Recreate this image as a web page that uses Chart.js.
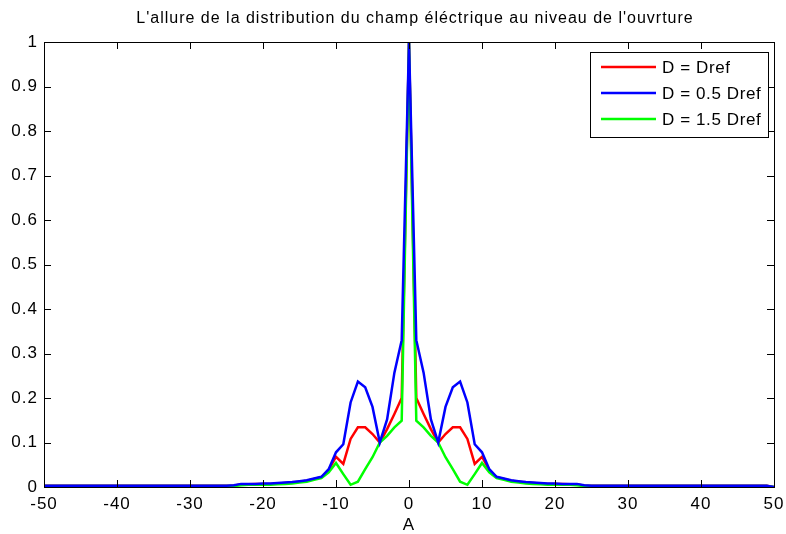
<!DOCTYPE html>
<html>
<head>
<meta charset="utf-8">
<script src="https://cdn.jsdelivr.net/npm/chart.js@4/dist/chart.umd.min.js"></script>
<style>
  html, body { margin: 0; padding: 0; background: #fff; }
  #wrap { width: 786px; height: 534px; }
</style>
</head>
<body>
<div id="wrap"><canvas id="graf" width="786" height="534"></canvas></div>
<script>
// abscisse A : -50 .. 50 pas de 1
const valeursA = [
  -50, -49, -48, -47, -46, -45, -44, -43, -42, -41,
  -40, -39, -38, -37, -36, -35, -34, -33, -32, -31,
  -30, -29, -28, -27, -26, -25, -24, -23, -22, -21,
  -20, -19, -18, -17, -16, -15, -14, -13, -12, -11,
  -10, -9, -8, -7, -6, -5, -4, -3, -2, -1,
  0,
  1, 2, 3, 4, 5, 6, 7, 8, 9, 10,
  11, 12, 13, 14, 15, 16, 17, 18, 19, 20,
  21, 22, 23, 24, 25, 26, 27, 28, 29, 30,
  31, 32, 33, 34, 35, 36, 37, 38, 39, 40,
  41, 42, 43, 44, 45, 46, 47, 48, 49, 50
];

// D = Dref
const champDref = [
  0.003, 0.003, 0.003, 0.003, 0.003, 0.003, 0.003, 0.003, 0.003, 0.003,
  0.003, 0.003, 0.003, 0.003, 0.003, 0.003, 0.003, 0.003, 0.003, 0.003,
  0.003, 0.003, 0.003, 0.003, 0.003, 0.003, 0.003, 0.006, 0.006, 0.007,
  0.007, 0.007, 0.008, 0.009, 0.010, 0.012, 0.014, 0.018, 0.022, 0.038,
  0.068, 0.052, 0.108, 0.134, 0.134, 0.119, 0.100, 0.130, 0.164, 0.200,
  1,
  0.200, 0.164, 0.130, 0.100, 0.119, 0.134, 0.134, 0.108, 0.052, 0.068,
  0.038, 0.022, 0.018, 0.014, 0.012, 0.010, 0.009, 0.008, 0.007, 0.007,
  0.007, 0.006, 0.006, 0.003, 0.003, 0.003, 0.003, 0.003, 0.003, 0.003,
  0.003, 0.003, 0.003, 0.003, 0.003, 0.003, 0.003, 0.003, 0.003, 0.003,
  0.003, 0.003, 0.003, 0.003, 0.003, 0.003, 0.003, 0.003, 0.003, 0
];

// D = 0.5 Dref
const champDemi = [
  0.003, 0.003, 0.003, 0.003, 0.003, 0.003, 0.003, 0.003, 0.003, 0.003,
  0.003, 0.003, 0.003, 0.003, 0.003, 0.003, 0.003, 0.003, 0.003, 0.003,
  0.003, 0.003, 0.003, 0.003, 0.003, 0.003, 0.004, 0.007, 0.007, 0.007,
  0.008, 0.008, 0.009, 0.010, 0.011, 0.013, 0.015, 0.019, 0.023, 0.040,
  0.078, 0.096, 0.190, 0.237, 0.224, 0.180, 0.100, 0.152, 0.257, 0.330,
  1,
  0.330, 0.257, 0.152, 0.100, 0.180, 0.224, 0.237, 0.190, 0.096, 0.078,
  0.040, 0.023, 0.019, 0.015, 0.013, 0.011, 0.010, 0.009, 0.008, 0.008,
  0.007, 0.007, 0.007, 0.004, 0.003, 0.003, 0.003, 0.003, 0.003, 0.003,
  0.003, 0.003, 0.003, 0.003, 0.003, 0.003, 0.003, 0.003, 0.003, 0.003,
  0.003, 0.003, 0.003, 0.003, 0.003, 0.003, 0.003, 0.003, 0.003, 0
];

// D = 1.5 Dref
const champUnDemi = [
  0.002, 0.002, 0.002, 0.002, 0.002, 0.002, 0.002, 0.002, 0.002, 0.002,
  0.002, 0.002, 0.002, 0.002, 0.002, 0.002, 0.002, 0.002, 0.002, 0.002,
  0.002, 0.002, 0.002, 0.002, 0.002, 0.002, 0.002, 0.004, 0.005, 0.005,
  0.005, 0.005, 0.006, 0.007, 0.008, 0.010, 0.012, 0.016, 0.020, 0.033,
  0.054, 0.029, 0.005, 0.012, 0.040, 0.067, 0.100, 0.115, 0.134, 0.149,
  1,
  0.149, 0.134, 0.115, 0.100, 0.067, 0.040, 0.012, 0.005, 0.029, 0.054,
  0.033, 0.020, 0.016, 0.012, 0.010, 0.008, 0.007, 0.006, 0.005, 0.005,
  0.005, 0.005, 0.004, 0.002, 0.002, 0.002, 0.002, 0.002, 0.002, 0.002,
  0.002, 0.002, 0.002, 0.002, 0.002, 0.002, 0.002, 0.002, 0.002, 0.002,
  0.002, 0.002, 0.002, 0.002, 0.002, 0.002, 0.002, 0.002, 0.002, 0
];

const titre = "L'allure de la distribution du champ éléctrique au niveau de l'ouvrture";
const nomsCourbes = ["D = Dref", "D = 0.5 Dref", "D = 1.5 Dref"];
const ticksX = [-50, -40, -30, -20, -10, 0, 10, 20, 30, 40, 50];
const ticksY = [0, 0.1, 0.2, 0.3, 0.4, 0.5, 0.6, 0.7, 0.8, 0.9, 1];

const police = "'Liberation Sans', Arial, Helvetica, sans-serif";

function points(ys) {
  return valeursA.map((a, i) => ({ x: a, y: ys[i] }));
}

// texte un peu plus espacé, comme le rendu matlab
const espacement = {
  id: "espacement",
  beforeDraw(chart) { chart.ctx.letterSpacing = "1px"; }
};

// titre au dessus des axes
const titreMatlab = {
  id: "titreMatlab",
  afterDraw(chart) {
    const ctx = chart.ctx;
    ctx.save();
    ctx.font = "16px " + police;
    ctx.letterSpacing = "1px";
    ctx.fillStyle = "#000";
    ctx.textAlign = "center";
    ctx.textBaseline = "middle";
    ctx.fillText(titre, 415, 19);
    ctx.restore();
  }
};

// cadre + graduations vers l'interieur (style matlab)
const cadreMatlab = {
  id: "cadreMatlab",
  afterDraw(chart) {
    const ctx = chart.ctx;
    const a = chart.chartArea;
    const sx = chart.scales.x, sy = chart.scales.y;
    const lg = 7;
    ctx.save();
    ctx.strokeStyle = "#000";
    ctx.lineWidth = 1;
    ctx.beginPath();
    ticksX.forEach(v => {
      const px = Math.round(sx.getPixelForValue(v)) + 0.5;
      ctx.moveTo(px, a.bottom); ctx.lineTo(px, a.bottom - lg);
      ctx.moveTo(px, a.top); ctx.lineTo(px, a.top + lg);
    });
    ticksY.forEach(v => {
      const py = Math.round(sy.getPixelForValue(v)) + 0.5;
      ctx.moveTo(a.left, py); ctx.lineTo(a.left + lg, py);
      ctx.moveTo(a.right, py); ctx.lineTo(a.right - lg, py);
    });
    ctx.stroke();
    ctx.strokeRect(Math.round(a.left) + 0.5, Math.round(a.top) + 0.5,
      Math.round(a.right - a.left), Math.round(a.bottom - a.top));
    ctx.restore();
  }
};

// legende dans le coin haut droit
const legendeMatlab = {
  id: "legendeMatlab",
  afterDraw(chart) {
    const ctx = chart.ctx;
    const x0 = 590.5, y0 = 52.5, w = 178, h = 85;
    ctx.save();
    ctx.fillStyle = "#fff";
    ctx.fillRect(x0, y0, w, h);
    ctx.strokeStyle = "#000";
    ctx.lineWidth = 1;
    ctx.strokeRect(x0, y0, w, h);
    ctx.font = "17px " + police;
    ctx.letterSpacing = "0.6px";
    ctx.textBaseline = "middle";
    ctx.fillStyle = "#000";
    chart.data.datasets.forEach((ds, i) => {
      const y = 67 + i * 26;
      ctx.strokeStyle = ds.borderColor;
      ctx.lineWidth = 2.5;
      ctx.beginPath();
      ctx.moveTo(601, y); ctx.lineTo(656, y);
      ctx.stroke();
      ctx.fillText(ds.label, 662, y + 1);
    });
    ctx.restore();
  }
};

new Chart(document.getElementById("graf"), {
  type: "line",
  data: {
    datasets: [
      { label: nomsCourbes[0], data: points(champDref), borderColor: "#ff0000", order: 2 },
      { label: nomsCourbes[1], data: points(champDemi), borderColor: "#0000ff", order: 0 },
      { label: nomsCourbes[2], data: points(champUnDemi), borderColor: "#00ff00", order: 1 }
    ]
  },
  options: {
    responsive: false,
    animation: false,
    devicePixelRatio: 1,
    elements: {
      line: { borderWidth: 2.5, tension: 0, fill: false },
      point: { radius: 0 }
    },
    layout: { padding: { left: 0, right: 12, top: 42, bottom: -2 } },
    plugins: {
      legend: { display: false },
      tooltip: { enabled: false },
      title: { display: false }
    },
    scales: {
      x: {
        type: "linear",
        min: -50, max: 50,
        grid: { display: false, drawTicks: false },
        border: { display: false },
        afterFit(s) { s.height = 49; s.paddingLeft = 0; s.paddingRight = 0; },
        afterBuildTicks(s) { s.ticks = ticksX.map(v => ({ value: v })); },
        ticks: {
          color: "#000", padding: 7, maxRotation: 0,
          font: { family: police, size: 17 }
        },
        title: {
          display: true, text: "A", color: "#000", padding: 0,
          font: { family: police, size: 17 }
        }
      },
      y: {
        type: "linear",
        min: 0, max: 1,
        grid: { display: false, drawTicks: false },
        border: { display: false },
        afterFit(s) { s.width = 44; s.paddingTop = 0; s.paddingBottom = 0; },
        afterBuildTicks(s) { s.ticks = ticksY.map(v => ({ value: v })); },
        ticks: {
          color: "#000", padding: 6,
          font: { family: police, size: 17 },
          callback: v => String(Math.round(v * 10) / 10)
        }
      }
    }
  },
  plugins: [espacement, cadreMatlab, legendeMatlab, titreMatlab]
});
</script>
</body>
</html>
